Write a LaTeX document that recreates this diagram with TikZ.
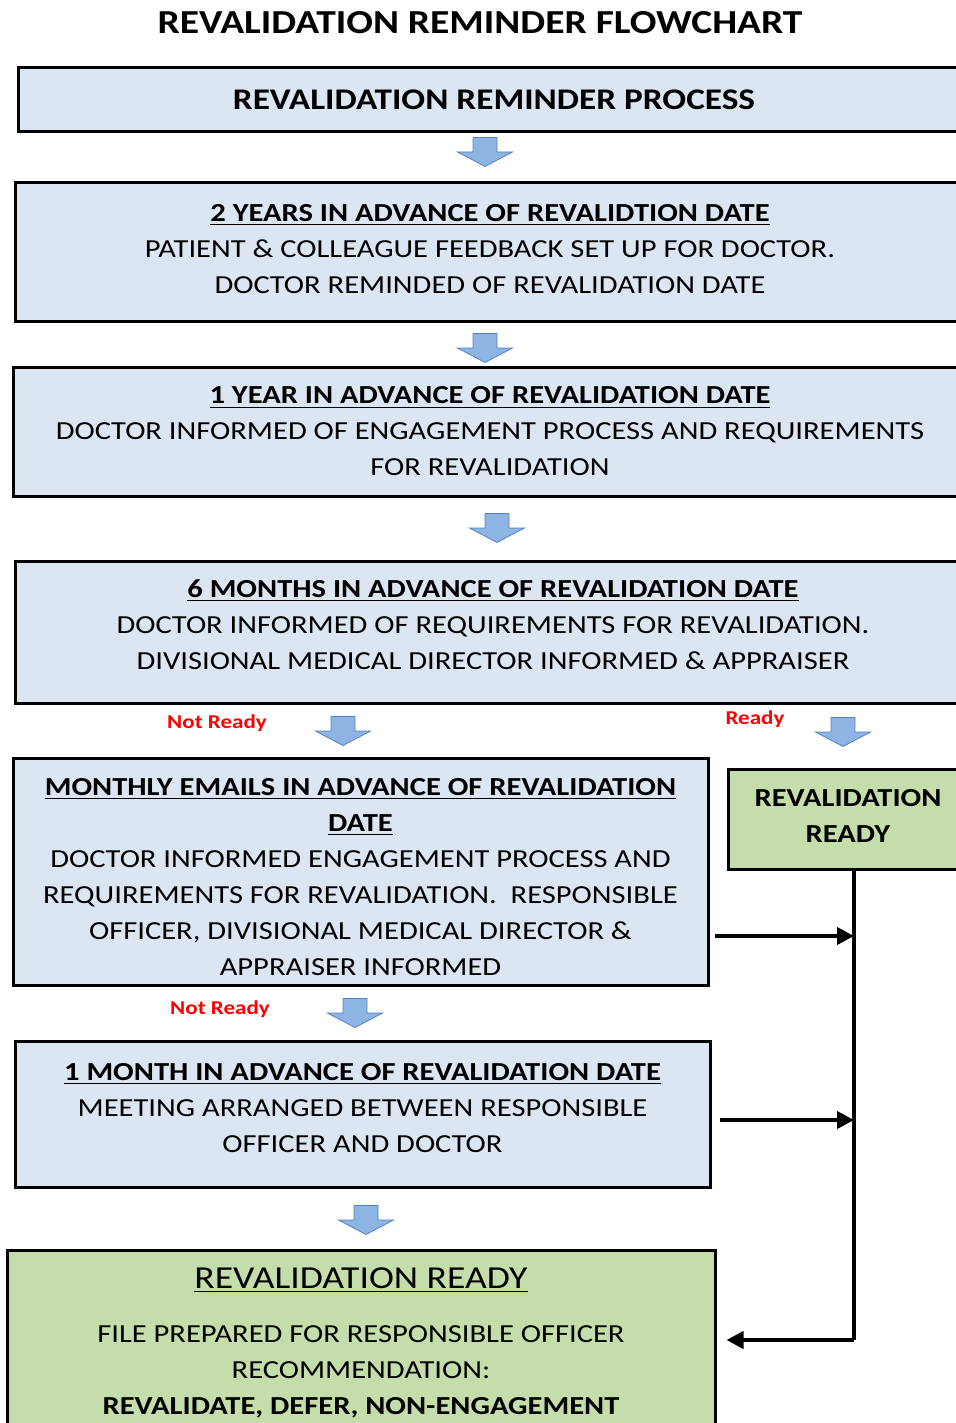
\documentclass[tikz,border=0pt]{standalone}
\usepackage{fontspec}
\setmainfont{Carlito}[FakeStretch=1.175]
\usetikzlibrary{arrows.meta, positioning}

\definecolor{boxblue}{RGB}{220,230,242}
\definecolor{boxgreen}{RGB}{196,221,170}
\definecolor{arrowblue}{RGB}{141,180,226}
\definecolor{arrowedge}{RGB}{84,130,190}

\begin{document}
\begin{tikzpicture}[x=0.5pt, y=-0.5pt,
    infobox/.style={draw=black, line width=1.5pt, fill=boxblue, align=center,
        inner sep=0pt, font=\fontsize{13}{18}\selectfont},
    readybox/.style={infobox, fill=boxgreen},
    flag/.style={text=red, font=\fontsize{9.8}{12}\selectfont\bfseries},
    link/.style={line width=2pt, -{Triangle[length=8.5pt, width=8.5pt]}},
    bus/.style={line width=2pt},
    blockarrow/.pic={
        \filldraw[fill=arrowblue, draw=arrowedge, line width=0.4pt]
            (-12,-14.5) -- (12,-14.5) -- (12,0) -- (27.5,0) -- (0,14.5)
            -- (-27.5,0) -- (-12,0) -- cycle;
    }]
    \useasboundingbox (0,0) rectangle (956,1423);
    \clip (0,0) rectangle (956,1423);

    % title
    \node[font=\fontsize{16.8}{20}\selectfont\bfseries] (title) at (480,23)
        {REVALIDATION REMINDER FLOWCHART};

    % reminder stages
    \node[infobox, minimum width=476pt, minimum height=32pt] (process) at (494,100)
        {\fontsize{15}{18}\selectfont\bfseries REVALIDATION REMINDER PROCESS};
    \node[infobox, minimum width=475pt, minimum height=69pt] (twoyears) at (490,252)
        {\bfseries\underline{2 YEARS IN ADVANCE OF REVALIDTION DATE}\\
         PATIENT \& COLLEAGUE FEEDBACK SET UP FOR DOCTOR.\\
         DOCTOR REMINDED OF REVALIDATION DATE\rule[-3pt]{0pt}{3pt}};
    \node[infobox, minimum width=477pt, minimum height=64.5pt] (oneyear) at (490,431.5)
        {\bfseries\underline{1 YEAR IN ADVANCE OF REVALIDATION DATE}\\
         DOCTOR INFORMED OF ENGAGEMENT PROCESS AND REQUIREMENTS\\
         FOR REVALIDATION};
    \node[infobox, minimum width=478pt, minimum height=71pt] (sixmonths) at (493,632)
        {\bfseries\underline{6 MONTHS IN ADVANCE OF REVALIDATION DATE}\\
         DOCTOR INFORMED OF REQUIREMENTS FOR REVALIDATION.\\
         DIVISIONAL MEDICAL DIRECTOR INFORMED \& APPRAISER\rule[-7pt]{0pt}{7pt}};
    \node[infobox, minimum width=347.5pt, minimum height=113.5pt] (monthly) at (360.5,871.5)
        {\rule{0pt}{14pt}\bfseries\underline{MONTHLY EMAILS IN ADVANCE OF REVALIDATION}\\
         \bfseries\underline{DATE}\\
         DOCTOR INFORMED ENGAGEMENT PROCESS AND\\
         REQUIREMENTS FOR REVALIDATION.\ \ RESPONSIBLE\\
         OFFICER, DIVISIONAL MEDICAL DIRECTOR \&\\
         APPRAISER INFORMED};
    \node[readybox, minimum width=120pt, minimum height=50pt] (ready) at (848,819)
        {\bfseries REVALIDATION\\ \bfseries READY\rule[-3pt]{0pt}{3pt}};
    \node[infobox, minimum width=347.5pt, minimum height=73pt] (onemonth) at (362.5,1114)
        {\bfseries\underline{1 MONTH IN ADVANCE OF REVALIDATION DATE}\\
         MEETING ARRANGED BETWEEN RESPONSIBLE\\
         OFFICER AND DOCTOR\rule[-6pt]{0pt}{6pt}};
    \node[readybox, minimum width=354pt, minimum height=100pt] (final) at (361,1350)
        {{\fontsize{16}{18}\selectfont\underline{REVALIDATION READY}}\\[9pt]
         FILE PREPARED FOR RESPONSIBLE OFFICER\\
         RECOMMENDATION:\\
         \bfseries REVALIDATE, DEFER, NON-ENGAGEMENT\rule[-9pt]{0pt}{9pt}};

    % outcome labels
    \node[flag] (notready1) at (217,723) {Not Ready};
    \node[flag] (readylbl) at (755,719) {Ready};
    \node[flag] (notready2) at (220,1009) {Not Ready};

    % block arrows between stages
    \pic at (485,152) {blockarrow};
    \pic at (485,348) {blockarrow};
    \pic at (497,528) {blockarrow};
    \pic at (343,731) {blockarrow};
    \pic at (843,732) {blockarrow};
    \pic at (355,1013) {blockarrow};
    \pic at (366,1220) {blockarrow};

    % ready line
    \coordinate (busmonthly) at (854,936);
    \coordinate (busmonth) at (854,1120);
    \coordinate (busend) at (854,1340);
    \draw[bus] (ready.south -| busend) -- (busend);
    \draw[link, shorten >=5pt] (busend) -- (busend -| final.east);
    \draw[link, shorten <=2.5pt] (monthly.east |- busmonthly) -- (busmonthly);
    \draw[link, shorten <=4pt] (onemonth.east |- busmonth) -- (busmonth);
\end{tikzpicture}
\end{document}
